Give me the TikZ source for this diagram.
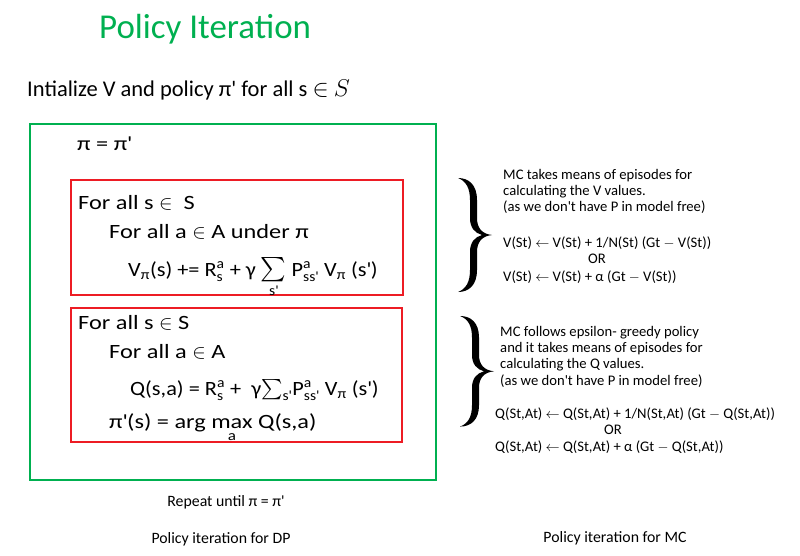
\documentclass[tikz,border=0pt]{standalone}
\usepackage{amsmath}
\usepackage{fontspec}
\setmainfont{Carlito}
\newfontfamily\boxfont[FakeStretch=1.2]{Carlito}
\newfontfamily\eqfont[FakeStretch=1.1]{Carlito}
\usepackage{xcolor}

\definecolor{titlegreen}{RGB}{0,176,80}
\definecolor{boxred}{RGB}{237,28,36}
\newcommand{\primetick}{\textquotesingle}
\newcommand{\bigsum}{\mathop{\text{\fontsize{21}{21}\selectfont$\sum$}}}

\begin{document}
\begin{tikzpicture}[
    x=0.03cm, y=-0.03cm,
    frame/.style={draw=titlegreen, line width=1.5pt},
    redbox/.style={draw=boxred, line width=1.5pt},
    txt/.style={anchor=base west, inner sep=0pt, font=\boxfont\fontsize{17.3}{21}\selectfont},
    formula/.style={txt, font=\eqfont\fontsize{17.3}{21}\selectfont},
    note/.style={anchor=base west, inner sep=0pt, font=\fontsize{12.5}{15}\selectfont},
    caption/.style={anchor=base, inner sep=0pt, font=\fontsize{13.5}{16}\selectfont},
    pics/curly/.style={code={
        \fill (0,0) .. controls (11,0) and (19,7) .. (19,22) -- (19,40)
            .. controls (19,50) and (24,56) .. (34,57)
            .. controls (24,58) and (19,64) .. (19,74) -- (19,92)
            .. controls (19,107) and (11,114) .. (0,114)
            .. controls (8,111) and (12,104) .. (12,92) -- (12,74)
            .. controls (12,64) and (17,59) .. (24,57)
            .. controls (17,55) and (12,50) .. (12,40) -- (12,22)
            .. controls (12,10) and (8,3) .. (0,0) -- cycle;
    }}
]
\useasboundingbox (0,0) rectangle (800,556);

% title and start
\node[anchor=base west, inner sep=0pt, text=titlegreen, font=\fontsize{29.8}{33}\selectfont] (title) at (99,38) {Policy Iteration};
\node[anchor=base west, inner sep=0pt, font=\fontsize{19.2}{22}\selectfont] (init) at (27,96) {Intialize V and policy π\primetick\ for all s $\in$ $S$};

% DP side
\draw[frame] (30,124) rectangle (436,480);
\node[txt] (assign) at (77,150) {π = π\primetick};

\draw[redbox] (71,180) rectangle (403,295);
\node[txt] (eval1) at (78,209) {For all s $\in$\ \ S};
\node[txt] (eval2) at (109,238) {For all a $\in$ A under π};
\node[formula] (eval3) at (128,276) {V\textsubscript{π}(s)\ += $\text{R}^{\text{a}}_{\text{s}}$ +\ γ $\bigsum\limits_{\text{s\primetick}}$ $\text{P}^{\text{a}}_{\text{ss\primetick}}$ V\textsubscript{π} (s\primetick)};

\draw[redbox] (71,308) rectangle (402,442);
\node[txt] (impr1) at (78,329) {For all s $\in$ S};
\node[txt] (impr2) at (109,358) {For all a $\in$ A};
\node[formula] (impr3) at (130,395) {Q(s,a) = $\text{R}^{\text{a}}_{\text{s}}$ +\ \ γ$\sum_{\text{s\primetick}}$$\text{P}^{\text{a}}_{\text{ss\primetick}}$ V\textsubscript{π} (s\primetick)};
\node[txt] (impr4) at (109,428) {π\primetick(s) = arg $\underset{\text{a}}{\text{max}}$ Q(s,a)};

\node[caption] (repeat) at (226,506) {Repeat until π = π\primetick};
\node[caption] (dpcap) at (221,543) {Policy iteration for DP};

% MC side
\pic at (458,178) {curly};
\node[note] (mcv1) at (503,179) {MC takes means of episodes for};
\node[note] (mcv2) at (503,195) {calculating the V values.};
\node[note] (mcv3) at (503,211) {(as we don\primetick t have P in model free)};
\node[note] (mcv4) at (503,247) {V(St) $\leftarrow$ V(St) + 1/N(St) (Gt $-$ V(St))};
\node[note, anchor=base] (mcvor) at (597,263) {OR};
\node[note] (mcv5) at (503,281) {V(St) $\leftarrow$ V(St) + α (Gt $-$ V(St))};

\pic[yscale=0.97] at (460,316) {curly};
\node[note] (mcq1) at (500,336) {MC follows epsilon- greedy policy};
\node[note] (mcq2) at (500,352) {and it takes means of episodes for};
\node[note] (mcq3) at (500,368) {calculating the Q values.};
\node[note] (mcq4) at (500,385) {(as we don\primetick t have P in model free)};
\node[note] (mcq5) at (495,418) {Q(St,At) $\leftarrow$ Q(St,At) + 1/N(St,At) (Gt $-$ Q(St,At))};
\node[note, anchor=base] (mcqor) at (613,434) {OR};
\node[note] (mcq6) at (495,451) {Q(St,At) $\leftarrow$ Q(St,At) + α (Gt $-$ Q(St,At))};

\node[caption] (mccap) at (615,542) {Policy iteration for MC};
\end{tikzpicture}
\end{document}
